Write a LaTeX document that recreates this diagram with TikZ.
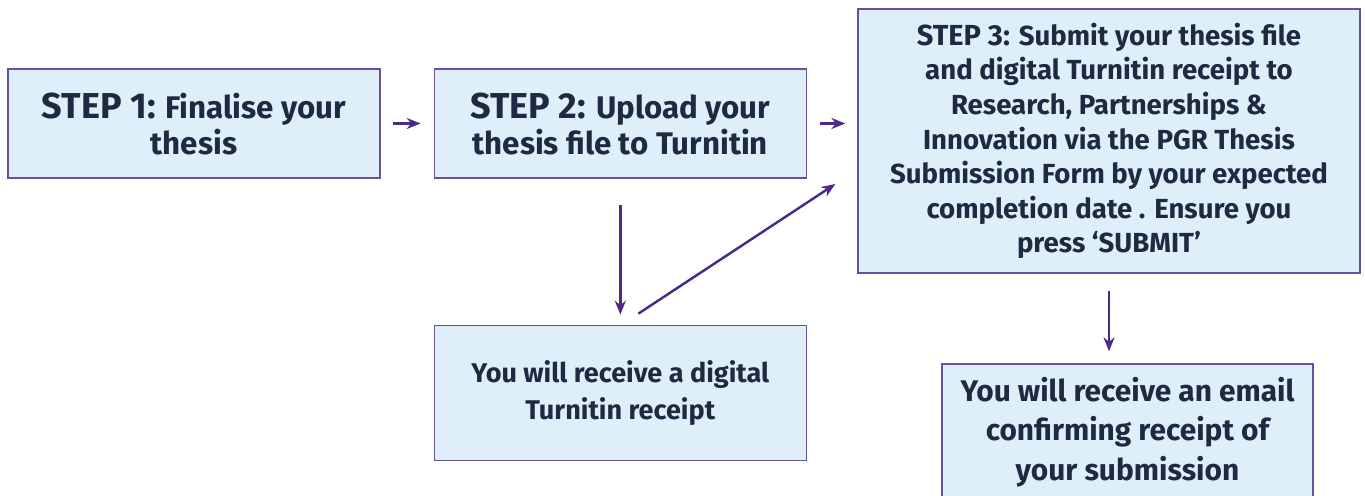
\documentclass[tikz,border=0pt]{standalone}
\usepackage{fontspec}
\setmainfont{Fira Sans}
\usepackage{tikz}
\usetikzlibrary{arrows.meta, positioning}
\definecolor{BoxFill}{RGB}{223,239,250}
\definecolor{BoxLine}{RGB}{104,80,160}
\definecolor{ArrowPurple}{RGB}{75,42,140}
\definecolor{TextNavy}{RGB}{30,42,66}
\tikzstyle{arrow} = [-{Stealth[length=0.28cm, width=0.22cm]}, draw=ArrowPurple, line width=1.4pt]
\tikzstyle{stepbox} = [rectangle, draw=BoxLine, line width=0.8pt, fill=BoxFill, text=TextNavy, align=center, inner sep=0pt]
\newcommand{\steplabel}[1]{{\fontsize{20.5}{20}\selectfont\bfseries #1}}

\begin{document}
\begin{tikzpicture}[x=0.02cm, y=-0.02cm]
	\useasboundingbox (0,0) rectangle (1365,496);
	% STEPS
	\node (S1) [stepbox, minimum width=7.44cm, minimum height=2.18cm, font=\fontsize{17.8}{20.5}\selectfont\bfseries] at (194,123.5) {\steplabel{STEP 1:} Finalise your\\thesis};
	\node (S2) [stepbox, minimum width=7.44cm, minimum height=2.18cm, font=\fontsize{17.8}{20.5}\selectfont\bfseries, right = 1.06cm of S1] {\steplabel{STEP 2:} Upload your\\thesis file to Turnitin};
	\node (S3) [stepbox, minimum width=10.04cm, minimum height=5.28cm, font=\fontsize{15.7}{19.7}\selectfont\bfseries] at (1109,141) {{\fontsize{16.5}{19.7}\selectfont STEP 3:} Submit your thesis file\\and digital Turnitin receipt to\\Research, Partnerships \&\\Innovation via the PGR Thesis\\Submission Form by your expected\\completion date . Ensure you\\press `SUBMIT'};
	% RESULTS
	\node (R1) [stepbox, minimum width=7.44cm, minimum height=2.7cm, font=\fontsize{15.4}{20.8}\selectfont\bfseries, below = 2.92cm of S2] {You will receive a digital\\Turnitin receipt};
	\node (R2) [stepbox, minimum width=7.42cm, minimum height=2.72cm, font=\fontsize{17}{22.5}\selectfont\bfseries] at (1127.5,432) {You will receive an email\\confirming receipt of\\your submission};

	\draw [arrow, shorten <=0.24cm, shorten >=0.26cm] (S1) -- (S2);
	\draw [arrow, shorten <=0.26cm, shorten >=0.24cm] (S2.east) -- (S2.east -| S3.west);
	\draw [arrow, shorten <=0.52cm, shorten >=0.2cm] (S2) -- (R1);
	\draw [arrow] ([xshift=0.36cm, yshift=0.22cm]R1.north) -- ([xshift=-0.44cm, yshift=-0.86cm]S3.west);
	\draw [arrow, shorten <=0.34cm, shorten >=0.24cm] (S3.south) -- (S3.south |- R2.north);
\end{tikzpicture}
\end{document}
